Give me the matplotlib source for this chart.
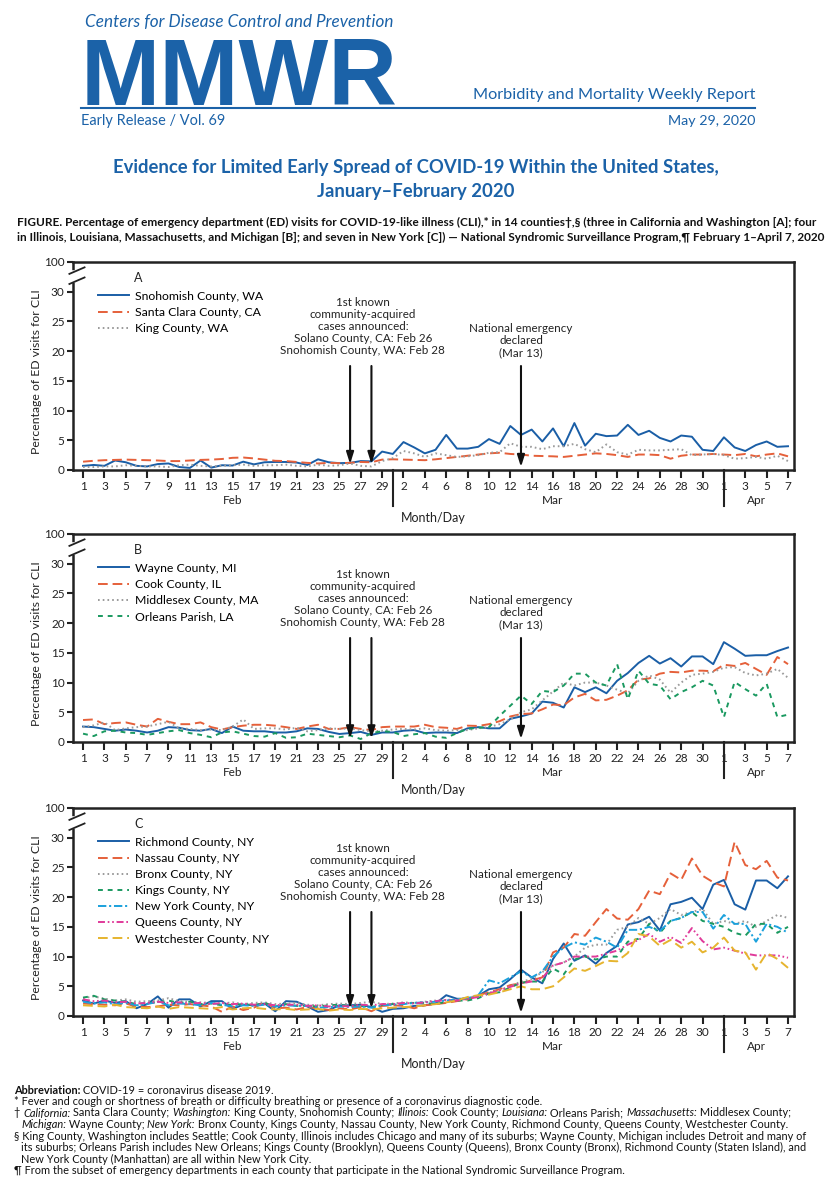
import matplotlib
matplotlib.use('Agg')
import numpy as np
import matplotlib.pyplot as plt
from matplotlib import font_manager
from matplotlib.lines import Line2D
from matplotlib.transforms import blended_transform_factory

# ---- data (percent of ED visits for CLI), Feb 1 - Apr 7 2020 ----
months = ['Feb', 'Mar', 'Apr']
month_days = [29, 31, 7]

snohomish = [0.7, 0.85, 0.7, 1.6, 1.3, 0.7, 0.6, 1.0, 1.1, 0.5, 0.35, 1.6, 0.4, 0.8, 0.75, 1.4, 0.95, 1.3, 1.35, 1.35,
             1.25, 0.85, 1.8, 1.3, 1.15, 1.2, 1.5, 1.45, 3.1,
             2.7, 4.7, 3.8, 2.8, 3.4, 5.9, 3.6, 3.6, 3.9, 5.2, 4.4, 7.4, 5.9, 6.8, 4.8, 7.0, 4.0, 7.9, 4.1, 6.1,
             5.7, 5.8, 7.6, 5.9, 6.6, 5.4, 4.8, 5.8, 5.6, 3.4, 3.2,
             5.5, 3.8, 3.2, 4.2, 4.8, 3.9, 4.0]
santa_clara = [1.4, 1.55, 1.65, 1.7, 1.75, 1.7, 1.65, 1.6, 1.5, 1.5, 1.6, 1.7, 1.75, 1.85, 2.05, 2.1, 1.95, 1.75, 1.55,
               1.5, 1.35, 1.2, 1.1, 1.2, 1.15, 1.2, 1.35, 1.3, 1.75,
               1.8, 1.75, 1.7, 1.65, 1.8, 2.0, 2.2, 2.4, 2.6, 2.8, 2.9, 2.7, 2.6, 2.4, 2.35, 2.3, 2.2, 2.4, 2.6, 2.8,
               2.7, 2.5, 2.2, 2.6, 2.6, 2.5, 1.9, 2.4, 2.6, 2.6, 2.7,
               2.6, 2.5, 2.7, 2.3, 2.6, 2.8, 2.3]
king = [0.5, 0.5, 0.6, 0.6, 0.8, 0.7, 0.6, 0.6, 0.5, 0.8, 0.9, 0.7, 0.6, 0.7, 0.8, 0.9, 0.7, 0.8, 0.8, 0.9, 0.7, 0.6,
        0.9, 0.7, 0.8, 1.1, 0.7, 0.6, 1.5,
        2.0, 3.2, 2.8, 2.2, 2.8, 2.5, 2.2, 2.3, 2.5, 2.9, 3.0, 4.5, 3.9, 3.9, 3.5, 4.0, 4.0, 4.4, 3.5, 3.0, 4.3, 3.0,
        2.6, 3.4, 3.3, 3.3, 3.4, 3.5, 2.5, 2.6, 2.7,
        2.5, 1.9, 2.0, 2.2, 1.9, 2.4, 1.5]

wayne = [2.6, 2.5, 2.2, 1.9, 2.1, 1.9, 1.6, 1.9, 2.5, 2.4, 2.0, 1.9, 2.2, 1.5, 2.6, 1.9, 1.8, 1.8, 1.6, 1.6, 1.8, 2.3,
         2.2, 1.7, 1.35, 1.5, 1.7, 1.2, 1.6,
         1.6, 1.9, 2.0, 1.5, 1.6, 1.6, 1.5, 2.3, 2.5, 2.3, 2.3, 3.9, 4.3, 4.8, 6.8, 6.6, 5.8, 9.2, 8.4, 9.2, 8.2,
         10.3, 11.6, 13.3, 14.5, 13.2, 14.1, 12.7, 14.4, 14.4, 13.1,
         16.8, 15.7, 14.5, 14.6, 14.6, 15.3, 15.9]
cook = [3.7, 3.8, 3.0, 3.2, 3.3, 2.9, 2.6, 3.9, 3.4, 3.0, 3.0, 3.3, 2.5, 2.1, 2.5, 2.75, 2.9, 2.9, 2.75, 2.5, 2.2, 2.6,
        2.9, 2.2, 2.2, 2.5, 2.2, 2.0, 2.5,
        2.6, 2.6, 2.6, 2.9, 2.5, 2.4, 2.2, 2.75, 2.7, 3.0, 3.5, 4.3, 4.7, 4.8, 5.5, 6.3, 6.2, 7.5, 8.1, 7.0, 7.1, 7.8,
        8.7, 10.5, 10.7, 11.5, 11.8, 11.7, 12.0, 12.0, 11.9,
        13.0, 12.8, 13.3, 12.3, 11.3, 14.3, 13.1]
middlesex = [2.5, 2.8, 3.3, 2.0, 2.3, 2.5, 2.6, 3.0, 3.4, 2.3, 2.2, 2.0, 2.1, 2.0, 2.6, 3.8, 2.2, 2.3, 2.3, 2.1, 2.4,
             1.8, 2.0, 2.3, 2.2, 2.3, 2.0, 1.8, 1.9,
             2.1, 2.2, 2.1, 2.3, 2.0, 1.9, 2.0, 2.0, 2.3, 2.5, 3.0, 3.8, 5.0, 5.5, 7.0, 8.5, 10.0, 9.5, 10.0, 10.0,
             9.5, 8.8, 8.2, 10.3, 11.2, 10.5, 8.3, 10.0, 11.3, 11.5, 11.8,
             12.5, 12.6, 11.6, 11.2, 11.5, 12.3, 10.8]
orleans = [1.4, 1.0, 1.8, 1.9, 1.6, 1.5, 1.2, 1.5, 1.8, 2.0, 1.5, 1.2, 0.8, 1.6, 1.8, 1.4, 1.0, 0.9, 1.5, 0.7, 0.8, 1.4,
           1.2, 1.0, 0.8, 1.1, 0.5, 1.5, 1.8,
           1.7, 1.0, 1.3, 1.5, 0.9, 0.7, 1.5, 2.2, 2.4, 2.5, 4.4, 6.1, 7.8, 6.4, 8.6, 8.4, 9.5, 11.5, 11.5, 10.0, 9.5,
           13.1, 7.2, 12.0, 9.8, 9.5, 7.2, 8.4, 9.2, 10.3, 9.5,
           4.2, 10.1, 8.9, 7.8, 9.8, 4.2, 4.6]

richmond = [2.6, 2.1, 2.6, 2.2, 2.5, 1.3, 2.0, 3.3, 1.4, 2.8, 2.8, 1.6, 2.5, 2.5, 1.2, 1.9, 1.8, 2.1, 0.8, 2.5, 2.4,
            1.6, 0.7, 1.0, 1.8, 1.8, 1.9, 1.5, 0.7,
            1.2, 1.3, 1.7, 1.8, 2.1, 3.5, 2.9, 2.9, 3.4, 4.5, 4.8, 6.2, 7.8, 6.5, 5.5, 9.6, 12.2, 9.3, 10.2, 8.8,
            10.6, 11.8, 15.4, 15.8, 16.7, 14.4, 18.8, 19.2, 19.9, 18.0, 22.1,
            22.9, 18.8, 17.9, 22.8, 22.8, 21.5, 23.5]
nassau = [2.1, 2.0, 1.9, 1.8, 2.1, 1.6, 1.5, 1.6, 1.9, 1.8, 2.0, 1.8, 1.6, 0.7, 1.6, 1.0, 1.4, 2.3, 1.3, 1.4, 1.1, 1.5,
          1.3, 1.0, 1.3, 1.1, 1.5, 0.8, 1.7,
          1.8, 1.7, 1.3, 1.8, 2.0, 2.2, 2.5, 2.8, 3.5, 4.0, 4.5, 5.2, 5.5, 6.0, 6.5, 10.7, 11.5, 13.8, 13.5, 15.8,
          18.0, 16.4, 16.2, 18.0, 21.1, 20.5, 24.0, 22.9, 26.5, 23.6, 22.5,
          21.8, 29.3, 25.4, 24.7, 26.1, 23.3, 22.8]
bronx = [3.0, 3.3, 2.9, 2.6, 2.8, 2.4, 2.5, 2.6, 3.0, 2.5, 2.4, 2.3, 2.2, 2.1, 2.3, 2.0, 2.2, 2.3, 2.0, 2.1, 2.2, 1.9,
         1.8, 2.0, 2.1, 2.0, 2.2, 2.4, 2.0,
         2.1, 2.3, 2.2, 2.4, 2.6, 2.7, 2.8, 3.1, 3.4, 3.9, 4.4, 5.0, 5.8, 6.2, 7.4, 8.5, 9.0, 10.0, 11.5, 12.0, 12.0,
         14.5, 15.0, 16.5, 15.5, 16.5, 18.0, 17.0, 17.5, 18.0, 15.5,
         16.0, 15.5, 16.0, 15.0, 16.0, 17.0, 16.5]
kings = [3.1, 3.4, 2.8, 2.6, 2.4, 2.0, 2.2, 2.3, 2.6, 2.2, 2.4, 2.0, 2.1, 1.8, 1.9, 2.0, 1.8, 2.2, 1.6, 2.0, 1.7, 1.7,
         1.6, 1.8, 1.9, 1.6, 1.7, 1.5, 1.9,
         2.0, 2.1, 2.2, 2.2, 2.0, 2.4, 2.6, 2.6, 3.0, 3.8, 4.0, 4.8, 5.6, 5.8, 5.8, 8.0, 7.0, 9.5, 10.0, 9.5, 10.0,
         10.0, 12.5, 13.0, 15.5, 14.0, 16.0, 16.5, 17.5, 16.0, 15.5,
         15.0, 14.0, 13.5, 15.5, 15.5, 14.0, 15.0]
new_york = [2.4, 2.1, 2.3, 2.0, 2.2, 1.8, 2.0, 2.4, 1.8, 2.1, 2.0, 1.8, 2.2, 1.9, 1.6, 1.8, 1.7, 1.9, 1.6, 1.8, 1.7,
            1.7, 1.4, 1.5, 1.6, 1.5, 1.6, 1.4, 1.8,
            1.9, 2.0, 2.2, 2.3, 2.4, 2.6, 2.8, 3.0, 3.5, 6.0, 5.5, 6.5, 7.5, 6.5, 7.5, 10.0, 11.5, 12.4, 12.0, 13.2,
            12.5, 11.5, 14.5, 14.5, 15.0, 14.3, 16.0, 16.5, 17.5, 17.5, 14.7,
            17.0, 15.5, 15.5, 12.5, 15.5, 15.0, 14.0]
queens = [2.8, 2.5, 2.6, 2.3, 2.4, 2.1, 2.2, 2.4, 2.2, 2.3, 2.1, 2.2, 2.0, 2.2, 2.0, 2.1, 1.9, 2.0, 1.8, 1.9, 1.9, 1.7,
          1.8, 1.6, 1.7, 1.6, 1.9, 1.8, 2.0,
          2.0, 2.2, 2.1, 2.3, 2.5, 2.7, 2.6, 2.9, 3.2, 3.8, 4.3, 4.9, 5.5, 5.8, 6.4, 8.5, 9.0, 10.0, 10.0, 10.0, 10.5,
          11.0, 12.0, 12.8, 13.8, 12.5, 13.3, 12.3, 14.8, 12.6, 11.2,
          11.5, 11.0, 10.5, 10.2, 10.2, 10.2, 9.8]
westchester = [1.8, 1.7, 1.6, 1.9, 1.5, 1.4, 1.3, 1.6, 1.2, 1.5, 1.4, 1.3, 1.2, 1.5, 1.1, 1.3, 1.4, 1.2, 1.1, 1.2, 1.0,
               1.1, 1.2, 0.9, 1.1, 1.0, 1.2, 1.1, 1.3,
               1.4, 1.5, 1.6, 1.8, 2.0, 2.3, 2.6, 3.2, 3.5, 3.6, 4.0, 4.5, 5.0, 4.5, 4.5, 5.0, 6.5, 8.0, 7.6, 8.4, 9.3,
               9.2, 10.6, 13.8, 13.4, 11.8, 12.8, 11.5, 12.5, 10.7, 11.5,
               13.2, 11.0, 10.7, 7.8, 10.6, 9.6, 8.1]

# ---- styles ----
BLUE = '#1a5ea6'
ORANGE = '#e5603a'
GRAY = '#9a9a9a'
GREEN = '#1a9960'
LBLUE = '#1ba1dc'
MAGENTA = '#e03a9a'
GOLD = '#e6b42e'
HEAD = '#1b62a8'

SOLID = '-'
LONG = (0, (7, 3.5))
DOT = (0, (1.2, 2.2))
SHORT = (0, (3.5, 3.5))
DASHDOT = (0, (6, 2, 1.5, 2))
DASHDOTDOT = (0, (5, 2, 1.2, 2, 1.2, 2))

names = {f.name for f in font_manager.fontManager.ttflist}
MAIN = ['Lato', 'DejaVu Sans']
NARROW = ['Liberation Sans Narrow', 'Lato', 'DejaVu Sans'] if 'Liberation Sans Narrow' in names else MAIN
plt.rcParams['font.family'] = MAIN
plt.rcParams['lines.scale_dashes'] = False

W, H = 837, 1200
fig = plt.figure(figsize=(W / 100, H / 100), dpi=100)
renderer = fig.canvas.get_renderer()


def fx(px):
    return px / W


def fy(py):
    return 1 - py / H


def fit(t, width_px):
    w = t.get_window_extent(renderer).width
    t.set_fontsize(t.get_fontsize() * width_px / w)
    return t


day_nums = [d for n in month_days for d in range(1, n + 1)]
x = np.arange(len(day_nums))
tick_pos = x[::2]
tick_labels = [str(d) for d in day_nums[::2]]
starts = np.cumsum([0] + month_days[:-1])


def panel(top, letter, series, tip):
    ax = fig.add_axes([fx(73), fy(top + 208), 721 / W, 208 / H])
    for label, vals, color, ls in series:
        ax.plot(x, vals, color=color, ls=ls, lw=1.4, label=label)
    ax.set_xlim(-0.94, 66.56)
    ax.set_ylim(0, 35)
    ax.set_yticks([0, 5, 10, 15, 20, 25, 30, 35], ['0', '5', '10', '15', '20', '25', '30', '100'])
    ax.set_xticks(tick_pos, tick_labels)
    ax.tick_params(axis='x', length=6, width=1.5, pad=2, labelsize=8.5, colors='#222222')
    ax.tick_params(axis='y', length=4, width=1.5, pad=2, labelsize=8.5, colors='#222222')
    for sp in ax.spines.values():
        sp.set_linewidth(1.8)
        sp.set_color('#222222')
    tr = blended_transform_factory(ax.transAxes, ax.transData)
    # axis break
    ax.plot([0, 0], [32.0, 33.1], transform=tr, color='white', lw=4, clip_on=False, zorder=6)
    for y0 in (31.3, 33.0):
        ax.plot([-0.005, 0.016], [y0, y0 + 1.1], transform=tr, color='#222222', lw=1.3,
                clip_on=False, zorder=7)
    # month separators and labels
    for s, n, m in zip(starts, month_days, months):
        ax.text(s + (n - 1) / 2, -5.2, m, ha='center', va='center', fontsize=8.5, color='#222222')
    for s in starts[1:]:
        ax.plot([s, s], [0, -6.1], color='#222222', lw=1.5, clip_on=False)
    ax.text(0.5, -8.1, 'Month/Day', transform=tr, ha='center', va='center', fontsize=9, color='#222222')
    ax.text(-0.0513, 16.5, 'Percentage of ED visits for CLI', transform=tr, rotation=90,
            ha='center', va='center', fontsize=8.8, color='#222222')
    ax.text(0.0846, 1 - 16 / 208, letter, transform=ax.transAxes, ha='left', va='center',
            fontsize=9, color='#222222')
    ax.legend(loc='upper left', bbox_to_anchor=(0.0347, 0.862), frameon=False, fontsize=8.8,
              handlelength=2.5, handletextpad=0.5, labelspacing=0.42, borderpad=0, borderaxespad=0)
    # annotations
    ax.text(26.2, 19.2, '1st known\ncommunity-acquired\ncases announced:\nSolano County, CA: Feb 26\n'
            'Snohomish County, WA: Feb 28', ha='center', va='bottom', fontsize=8.4,
            linespacing=1.1, color='#222222')
    arrow = dict(arrowstyle='-|>,head_length=0.7,head_width=0.22', color='#111111', lw=1.5,
                 shrinkA=0, shrinkB=0, mutation_scale=10)
    for d in (25, 27):
        ax.annotate('', xy=(d, tip), xytext=(d, 17.5), arrowprops=arrow)
    ax.text(41, 18.8, 'National emergency\ndeclared\n(Mar 13)', ha='center', va='bottom', fontsize=8.4,
            linespacing=1.1, color='#222222')
    ax.annotate('', xy=(41, 0.5), xytext=(41, 17.5), arrowprops=arrow)
    return ax


panel(262, 'A', [('Snohomish County, WA', snohomish, BLUE, SOLID),
                 ('Santa Clara County, CA', santa_clara, ORANGE, LONG),
                 ('King County, WA', king, GRAY, DOT)], 1.0)
panel(534, 'B', [('Wayne County, MI', wayne, BLUE, SOLID),
                 ('Cook County, IL', cook, ORANGE, LONG),
                 ('Middlesex County, MA', middlesex, GRAY, DOT),
                 ('Orleans Parish, LA', orleans, GREEN, SHORT)], 0.6)
panel(808, 'C', [('Richmond County, NY', richmond, BLUE, SOLID),
                 ('Nassau County, NY', nassau, ORANGE, LONG),
                 ('Bronx County, NY', bronx, GRAY, DOT),
                 ('Kings County, NY', kings, GREEN, SHORT),
                 ('New York County, NY', new_york, LBLUE, DASHDOT),
                 ('Queens County, NY', queens, MAGENTA, DASHDOTDOT),
                 ('Westchester County, NY', westchester, GOLD, LONG)], 1.3)

# ---- header ----
fit(fig.text(fx(85), fy(22), 'Centers for Disease Control and Prevention', style='italic', color=HEAD,
             fontsize=14, ha='left', va='center', family=NARROW), 308)
fit(fig.text(fx(81), fy(105), 'MMWR', fontweight='bold', color=HEAD, fontsize=70, ha='left',
             va='baseline', family=['Liberation Sans', 'DejaVu Sans']), 317)
fig.add_artist(Line2D([fx(81), fx(755)], [fy(108), fy(108)], color=HEAD, lw=1.5))
fit(fig.text(fx(755), fy(95), 'Morbidity and Mortality Weekly Report', color=HEAD, fontsize=12,
             ha='right', va='center'), 282)
fit(fig.text(fx(81), fy(121), 'Early Release / Vol. 69', color=HEAD, fontsize=11, ha='left', va='center'), 144)
fit(fig.text(fx(755), fy(121), 'May 29, 2020', color=HEAD, fontsize=11, ha='right', va='center'), 88)
t1 = fit(fig.text(fx(416), fy(168), 'Evidence for Limited Early Spread of COVID-19 Within the United States,',
                  color=HEAD, fontsize=14, fontweight='bold', ha='center', va='center'), 609)
fig.text(fx(416), fy(191), 'January\u2013February 2020', color=HEAD, fontsize=t1.get_fontsize(),
         fontweight='bold', ha='center', va='center')

cap1 = fit(fig.text(fx(17), fy(222), 'FIGURE. Percentage of emergency department (ED) visits for COVID-19-like '
                    'illness (CLI),* in 14 counties\u2020,\u00a7 (three in California and Washington [A]; four',
                    fontsize=9, fontweight='bold', ha='left', va='center', family=NARROW, color='#111111'), 802)
fit(fig.text(fx(17), fy(237), 'in Illinois, Louisiana, Massachusetts, and Michigan [B]; and seven in New York [C]) '
             '\u2014 National Syndromic Surveillance Program,\u00b6 February 1\u2013April 7, 2020',
             fontsize=9, fontweight='bold', ha='left', va='center', family=NARROW, color='#111111'), 802)

# ---- footnotes ----
ref = fit(fig.text(fx(21), fy(1300), '\u00a7 King County, Washington includes Seattle; Cook County, Illinois includes '
                   'Chicago and many of its suburbs; Wayne County, Michigan includes Detroit and many of',
                   fontsize=8, family=NARROW), 798)
FS = ref.get_fontsize()
ref.remove()

foot = [
    (14, [('Abbreviation:', 'bold'), (' COVID-19 = coronavirus disease 2019.', 'normal')]),
    (14, [('* Fever and cough or shortness of breath or difficulty breathing or presence of a coronavirus '
           'diagnostic code.', 'normal')]),
    (14, [('\u2020 ', 'normal'), ('California:', 'italic'), (' Santa Clara County; ', 'normal'),
          ('Washington:', 'italic'), (' King County, Snohomish County; ', 'normal'), ('Illinois:', 'italic'),
          (' Cook County; ', 'normal'), ('Louisiana:', 'italic'), (' Orleans Parish; ', 'normal'),
          ('Massachusetts:', 'italic'), (' Middlesex County;', 'normal')]),
    (21, [('Michigan:', 'italic'), (' Wayne County; ', 'normal'), ('New York:', 'italic'),
          (' Bronx County, Kings County, Nassau County, New York County, Richmond County, Queens County, '
           'Westchester County.', 'normal')]),
    (14, [('\u00a7 King County, Washington includes Seattle; Cook County, Illinois includes Chicago and many of '
           'its suburbs; Wayne County, Michigan includes Detroit and many of', 'normal')]),
    (21, [('its suburbs; Orleans Parish includes New Orleans; Kings County (Brooklyn), Queens County (Queens), '
           'Bronx County (Bronx), Richmond County (Staten Island), and', 'normal')]),
    (21, [('New York County (Manhattan) are all within New York City.', 'normal')]),
    (14, [('\u00b6 From the subset of emergency departments in each county that participate in the National '
           'Syndromic Surveillance Program.', 'normal')]),
]
foot_y = [1090, 1101.5, 1113, 1124.5, 1136, 1147.5, 1159, 1170.5]
for (x0, segs), yy in zip(foot, foot_y):
    xp = x0
    for s, style in segs:
        kw = dict(fontweight='bold') if style == 'bold' else dict(style='italic') if style == 'italic' else {}
        t = fig.text(fx(xp), fy(yy), s, fontsize=FS, ha='left', va='center', family=NARROW,
                     color='#111111', **kw)
        xp += t.get_window_extent(renderer).width

fig.savefig('out.png', dpi=100)
